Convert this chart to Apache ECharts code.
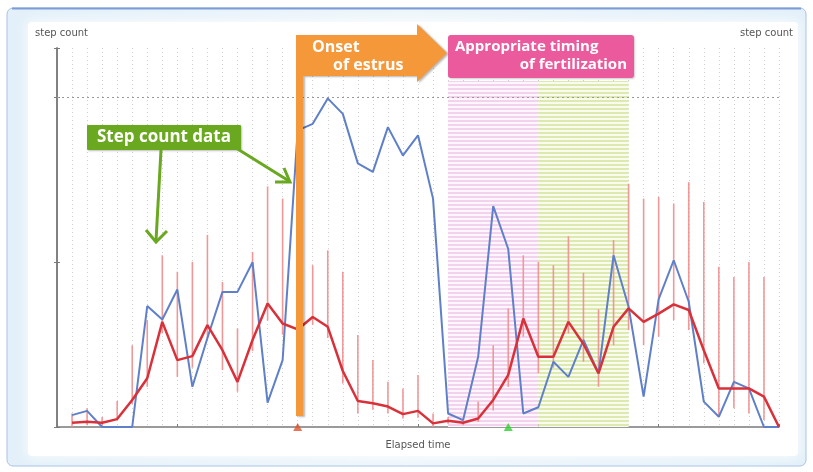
<!DOCTYPE html>
<html><head><meta charset="utf-8">
<script src="https://cdn.jsdelivr.net/npm/echarts@6/dist/echarts.min.js"></script>
<style>html,body{margin:0;padding:0;background:#fff}#c{width:813px;height:472px}</style>
</head><body><div id="c"></div>
<script>
// ---- data ----
const timeIdx = [1,2,3,4,5,6,7,8,9,10,11,12,13,14,15,16,17,18,19,20,21,22,23,24,25,26,27,28,29,30,31,32,33,34,35,36,37,38,39,40,41,42,43,44,45,46,47,48];
const individualSteps = [3.6,4.9,0,0,0,36.7,32.6,41.7,12.2,27,41,41,50,7.4,20.3,90,92,99.7,95,80,77.4,91,82.4,88.5,69.3,4.1,2.1,21.3,67,54,4.1,6,19.8,15.2,26.4,16.3,52.1,36.5,9.2,38.8,50.6,38,7.7,3.1,13.7,11.7,0,0];
const meanSteps = [1.3,1.6,1.3,2.4,8.2,14.8,31.9,20.3,21.5,30.9,23.3,13.7,26.4,37.5,31.4,29.6,33.4,30.4,17,7.9,7.2,6.2,3.9,4.9,1.1,1.9,1.3,2.6,8.2,15.8,32.9,21.3,21.3,31.9,25.2,16.3,30.4,36,31.9,34.4,37.2,35.5,23.3,11.7,11.7,11.7,9.2,0];
const rangeHigh = [4.1,5.7,3.0,7.9,24.8,32.4,52.1,47.1,50.1,58.3,44,29.9,53.1,73,69.3,60,49.1,53.6,47.1,27.9,20.3,13.7,11.7,15.8,4.1,3,2,7.7,24.8,36,52.1,50.1,49.1,57.9,46.8,35.7,56.7,73.8,69.3,69.8,67.8,74.3,68.3,48.6,45.5,50.1,45.5,0];
const rangeLow = [0,0.5,0,2.1,7,12.2,28.4,15.2,18,27,17.3,10.7,23,32.3,28,27,31,27,13.2,4.1,5.2,4.1,2.6,2.8,0,1,0.5,1.5,5,12.2,27.4,16.3,18,28.4,19.8,12.2,24.8,29.4,24.8,27.4,32.4,29.4,19.3,3.1,5.7,4.1,2.1,0];
const estrusOnsetX = 16;
const fertilizationX = 30;
const pinkZone = [26, 32];
const greenZone = [32, 38];
const zoneTop = 105;
const guideLineValue = 100;
const xTickStep = 8;
const yTickStep = 50;

function stripePattern(bg, stripe) {
  const cv = document.createElement('canvas');
  cv.width = 4; cv.height = 4;
  const g = cv.getContext('2d');
  g.fillStyle = bg; g.fillRect(0, 0, 4, 4);
  g.fillStyle = stripe; g.fillRect(0, 0, 4, 2);
  return { image: cv, repeat: 'repeat' };
}

const chart = echarts.init(document.getElementById('c'), null, { renderer: 'canvas' });
const axisGray = '#7a7a7a';
const smallFont = 'DejaVu Sans';

const option = {
  animation: false,
  backgroundColor: '#ffffff',
  grid: { left: 57, right: 34, top: 48, bottom: 45, containLabel: false },
  xAxis: [
    { type: 'value', min: 0, max: 48, interval: xTickStep,
      axisLine: { show: true, lineStyle: { color: axisGray, width: 1.5 } },
      axisTick: { show: true, length: 3, inside: true, lineStyle: { color: axisGray } },
      axisLabel: { show: false }, splitLine: { show: false },
      name: 'Elapsed time', nameLocation: 'middle', nameGap: 13,
      nameTextStyle: { fontFamily: smallFont, fontSize: 10, color: '#555' } },
    { type: 'value', min: 0, max: 48, interval: 1, position: 'bottom',
      axisLine: { show: false }, axisTick: { show: false }, axisLabel: { show: false },
      splitLine: { show: true, lineStyle: { color: '#cfcfcf', type: [1, 3], width: 1 } } }
  ],
  yAxis: [
    { type: 'value', min: 0, max: 115, interval: yTickStep, position: 'left',
      axisLine: { show: true, lineStyle: { color: axisGray, width: 1.5 } },
      axisTick: { show: true, length: 3, lineStyle: { color: axisGray } },
      axisLabel: { show: false }, splitLine: { show: false } },
    { type: 'value', min: 0, max: 115, interval: yTickStep, position: 'right',
      axisLine: { show: true, lineStyle: { color: axisGray, width: 1.5 } },
      axisTick: { show: true, length: 3, lineStyle: { color: axisGray } },
      axisLabel: { show: false }, splitLine: { show: false } }
  ],
  series: [
    { type: 'line', data: [], z: 1, silent: true,
      markArea: { silent: true, z: 1,
        data: [
          [ { xAxis: pinkZone[0], yAxis: 0, itemStyle: { color: stripePattern('#fdf6fc', '#f3d2ee') } }, { xAxis: pinkZone[1], yAxis: zoneTop } ],
          [ { xAxis: greenZone[0], yAxis: 0, itemStyle: { color: stripePattern('#f8fbee', '#dceab0') } }, { xAxis: greenZone[1], yAxis: zoneTop } ]
        ] },
      markLine: { silent: true, symbol: 'none', label: { show: false },
        lineStyle: { color: '#9a9a9a', type: [2, 3], width: 1 },
        data: [ { yAxis: guideLineValue } ] } },
    { type: 'custom', z: 2, silent: true,
      data: timeIdx.map((t, k) => [t, rangeLow[k], rangeHigh[k]]),
      encode: { x: 0, y: [1, 2] },
      renderItem: function (params, api) {
        const x = api.value(0);
        const a = api.coord([x, api.value(1)]);
        const b = api.coord([x, api.value(2)]);
        return { type: 'line', shape: { x1: a[0], y1: a[1], x2: b[0], y2: b[1] },
          style: { stroke: '#f08e8e', lineWidth: 1.6, opacity: 0.9 } };
      } },
    { type: 'line', z: 3, symbol: 'none',
      data: timeIdx.map((t, k) => [t, individualSteps[k]]),
      lineStyle: { color: '#5f80c9', width: 2 } },
    { type: 'line', z: 4, symbol: 'none',
      data: timeIdx.map((t, k) => [t, meanSteps[k]]),
      lineStyle: { color: '#d9313a', width: 2.5 } },
    { type: 'scatter', z: 5, symbol: 'triangle', symbolSize: [9, 8], clip: false,
      data: [
        { value: [estrusOnsetX, 0], itemStyle: { color: '#e2542c' } },
        { value: [fertilizationX, 0], itemStyle: { color: '#2fd22f' } }
      ] }
  ],
  graphic: [
    { type: 'rect', z: -10, silent: true, shape: { x: 7, y: 8, width: 799, height: 458, r: 6 },
      style: { fill: { type: 'linear', x: 0, y: 0, x2: 1, y2: 0, colorStops: [
        { offset: 0, color: '#e3f0f9' }, { offset: 0.5, color: '#eef6fb' }, { offset: 1, color: '#e3f0f9' } ] },
        stroke: '#a8c2e6', lineWidth: 1 } },
    { type: 'line', z: -9, silent: true, shape: { x1: 12, y1: 8.5, x2: 801, y2: 8.5 },
      style: { stroke: '#7c9bd8', lineWidth: 2 } },
    { type: 'rect', z: -8, silent: true, shape: { x: 28, y: 22, width: 770, height: 434, r: 4 },
      style: { fill: '#ffffff', shadowBlur: 12, shadowColor: 'rgba(255,255,255,0.95)' } },
    { type: 'text', z: 10, silent: true, style: { x: 35, y: 33, text: 'step count', font: '10px "DejaVu Sans"', fill: '#555', textVerticalAlign: 'middle' } },
    { type: 'text', z: 10, silent: true, style: { x: 793, y: 33, text: 'step count', font: '10px "DejaVu Sans"', fill: '#555', textAlign: 'right', textVerticalAlign: 'middle' } },
    { type: 'polygon', z: 100, silent: true,
      shape: { points: [[296,35],[417,35],[417,24],[447,53],[417,82],[417,76],[303,76],[303,416],[296,416]] },
      style: { fill: '#f5983a', shadowColor: 'rgba(0,0,0,0.28)', shadowBlur: 2, shadowOffsetX: 2, shadowOffsetY: 1 } },
    { type: 'text', z: 101, silent: true, style: { x: 312, y: 47, text: 'Onset', font: 'bold 16px "Open Sans"', fill: '#ffffff', textVerticalAlign: 'middle' } },
    { type: 'text', z: 101, silent: true, style: { x: 333, y: 65, text: 'of estrus', font: 'bold 16px "Open Sans"', fill: '#ffffff', textVerticalAlign: 'middle' } },
    { type: 'rect', z: 100, silent: true, shape: { x: 448, y: 35, width: 186, height: 43, r: 3 },
      style: { fill: '#ea5a9d', shadowColor: 'rgba(0,0,0,0.2)', shadowBlur: 2, shadowOffsetX: 1, shadowOffsetY: 1 } },
    { type: 'text', z: 101, silent: true, style: { x: 455, y: 47, text: 'Appropriate timing', font: 'bold 15px "Open Sans"', fill: '#ffffff', textVerticalAlign: 'middle' } },
    { type: 'text', z: 101, silent: true, style: { x: 627, y: 65, text: 'of fertilization', font: 'bold 15px "Open Sans"', fill: '#ffffff', textAlign: 'right', textVerticalAlign: 'middle' } },
    { type: 'rect', z: 100, silent: true, shape: { x: 87, y: 125, width: 154, height: 25, r: 1 },
      style: { fill: '#69a81f', shadowColor: 'rgba(0,0,0,0.25)', shadowBlur: 2, shadowOffsetX: 1, shadowOffsetY: 1 } },
    { type: 'text', z: 101, silent: true, style: { x: 164, y: 137.5, text: 'Step count data', font: 'bold 17px "Open Sans"', fill: '#ffffff', textAlign: 'center', textVerticalAlign: 'middle' } },
    { type: 'polyline', z: 100, silent: true, shape: { points: [[161,150],[156,241]] }, style: { stroke: '#69a81f', lineWidth: 3 } },
    { type: 'polyline', z: 100, silent: true, shape: { points: [[146,230],[156,242],[167,231]] }, style: { stroke: '#69a81f', lineWidth: 3, lineJoin: 'miter' } },
    { type: 'polyline', z: 100, silent: true, shape: { points: [[236,148],[289,181]] }, style: { stroke: '#69a81f', lineWidth: 3 } },
    { type: 'polyline', z: 100, silent: true, shape: { points: [[284,168],[290,182],[275,182]] }, style: { stroke: '#69a81f', lineWidth: 3, lineJoin: 'miter' } }
  ]
};
chart.setOption(option);
</script>
</body></html>
